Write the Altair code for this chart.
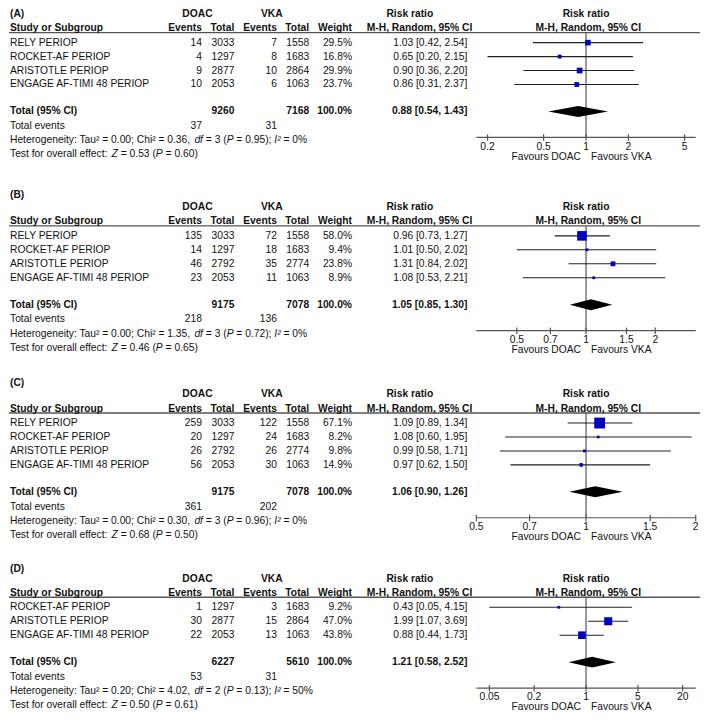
import altair as alt
import pandas as pd

# ---------------- data ----------------
panel_labels = ["(A)", "(B)", "(C)", "(D)"]

studies_A = ["RELY PERIOP", "ROCKET-AF PERIOP", "ARISTOTLE PERIOP", "ENGAGE AF-TIMI 48 PERIOP"]
doac_events_A = [14, 4, 9, 10]
doac_total_A = [3033, 1297, 2877, 2053]
vka_events_A = [7, 8, 10, 6]
vka_total_A = [1558, 1683, 2864, 1063]
weight_A = [29.5, 16.8, 29.9, 23.7]
rr_A = [1.03, 0.65, 0.90, 0.86]
rr_lo_A = [0.42, 0.20, 0.36, 0.31]
rr_hi_A = [2.54, 2.15, 2.20, 2.37]

studies_B = ["RELY PERIOP", "ROCKET-AF PERIOP", "ARISTOTLE PERIOP", "ENGAGE AF-TIMI 48 PERIOP"]
doac_events_B = [135, 14, 46, 23]
doac_total_B = [3033, 1297, 2792, 2053]
vka_events_B = [72, 18, 35, 11]
vka_total_B = [1558, 1683, 2774, 1063]
weight_B = [58.0, 9.4, 23.8, 8.9]
rr_B = [0.96, 1.01, 1.31, 1.08]
rr_lo_B = [0.73, 0.50, 0.84, 0.53]
rr_hi_B = [1.27, 2.02, 2.02, 2.21]

studies_C = ["RELY PERIOP", "ROCKET-AF PERIOP", "ARISTOTLE PERIOP", "ENGAGE AF-TIMI 48 PERIOP"]
doac_events_C = [259, 20, 26, 56]
doac_total_C = [3033, 1297, 2792, 2053]
vka_events_C = [122, 24, 26, 30]
vka_total_C = [1558, 1683, 2774, 1063]
weight_C = [67.1, 8.2, 9.8, 14.9]
rr_C = [1.09, 1.08, 0.99, 0.97]
rr_lo_C = [0.89, 0.60, 0.58, 0.62]
rr_hi_C = [1.34, 1.95, 1.71, 1.50]

studies_D = ["ROCKET-AF PERIOP", "ARISTOTLE PERIOP", "ENGAGE AF-TIMI 48 PERIOP"]
doac_events_D = [1, 30, 22]
doac_total_D = [1297, 2877, 2053]
vka_events_D = [3, 15, 13]
vka_total_D = [1683, 2864, 1063]
weight_D = [9.2, 47.0, 43.8]
rr_D = [0.43, 1.99, 0.88]
rr_lo_D = [0.05, 1.07, 0.44]
rr_hi_D = [4.15, 3.69, 1.73]

total_doac = [9260, 9175, 9175, 6227]
total_vka = [7168, 7078, 7078, 5610]
total_weight = [100.0, 100.0, 100.0, 100.0]
total_rr = [0.88, 1.05, 1.06, 1.21]
total_lo = [0.54, 0.85, 0.90, 0.58]
total_hi = [1.43, 1.30, 1.26, 2.52]
events_doac = [37, 218, 361, 53]
events_vka = [31, 136, 202, 31]
het_tau2 = ["0.00", "0.00", "0.00", "0.20"]
het_chi2 = ["0.36", "1.35", "0.30", "4.02"]
het_df = [3, 3, 3, 2]
het_p = ["0.95", "0.72", "0.96", "0.13"]
het_i2 = [0, 0, 0, 50]
z_value = ["0.53", "0.46", "0.68", "0.50"]
z_p = ["0.60", "0.65", "0.50", "0.61"]

axis_ticks = [[0.2, 0.5, 1, 2, 5], [0.5, 0.7, 1, 1.5, 2], [0.5, 0.7, 1, 1.5, 2], [0.05, 0.2, 1, 5, 20]]
axis_tick_labels = [["0.2", "0.5", "1", "2", "5"], ["0.5", "0.7", "1", "1.5", "2"],
                    ["0.5", "0.7", "1", "1.5", "2"], ["0.05", "0.2", "1", "5", "20"]]
axis_limit = [6.0, 3.0, 2.0, 30.0]

studies = [studies_A, studies_B, studies_C, studies_D]
doac_events = [doac_events_A, doac_events_B, doac_events_C, doac_events_D]
doac_total = [doac_total_A, doac_total_B, doac_total_C, doac_total_D]
vka_events = [vka_events_A, vka_events_B, vka_events_C, vka_events_D]
vka_total = [vka_total_A, vka_total_B, vka_total_C, vka_total_D]
weights = [weight_A, weight_B, weight_C, weight_D]
rrs = [rr_A, rr_B, rr_C, rr_D]
rr_los = [rr_lo_A, rr_lo_B, rr_lo_C, rr_lo_D]
rr_his = [rr_hi_A, rr_hi_B, rr_hi_C, rr_hi_D]

# ---------------- layout / style ----------------
FONT = "Liberation Sans"
FS = 10.3
LINE = 14.0
WIDTH = 693
INK = "#111111"
GREY = "#555555"
BLUE = "#0000C0"

COL_NAME = 1
COL_DEV = 193.5
COL_DTOT = 226
COL_VEV = 268.7
COL_VTOT = 301
COL_WT = 344
COL_CI = 459.7
COL_DOAC_HEAD = 189
COL_VKA_HEAD = 263.5
COL_RR_HEAD = 402
COL_MH_HEAD = 411.7
COL_RR_HEAD2 = 578.7
COL_MH_HEAD2 = 581
FOREST_RANGE = [468.7, 688.7]

# page-coordinate layout of each panel
panel_top = [8, 180, 372, 560]
panel_height = [172, 192, 188, 154]
label_y = [13.3, 194.7, 382.8, 569.8]
head1_y = [13.3, 206.3, 394.0, 579.5]
base_y = [27.2, 221.0, 408.7, 593.5]

ARIAL = {' ': 278, '!': 278, '%': 889, '(': 333, ')': 333, ',': 278, '-': 333, '.': 278, ':': 278,
         ';': 278, '=': 584, '\u00b2': 333, '[': 278, ']': 278}
for ch in "0123456789":
    ARIAL[ch] = 556
ARIAL.update({'A': 667, 'B': 667, 'C': 722, 'D': 722, 'E': 667, 'F': 611, 'G': 778, 'H': 722, 'I': 278,
              'J': 500, 'K': 667, 'L': 556, 'M': 833, 'N': 722, 'O': 778, 'P': 667, 'Q': 778, 'R': 722,
              'S': 667, 'T': 611, 'U': 722, 'V': 667, 'W': 944, 'X': 667, 'Y': 667, 'Z': 611,
              'a': 556, 'b': 556, 'c': 500, 'd': 556, 'e': 556, 'f': 278, 'g': 556, 'h': 556, 'i': 222,
              'j': 222, 'k': 500, 'l': 222, 'm': 833, 'n': 556, 'o': 556, 'p': 556, 'q': 556, 'r': 333,
              's': 500, 't': 278, 'u': 556, 'v': 500, 'w': 722, 'x': 500, 'y': 500, 'z': 500})


def text_width(s):
    return sum(ARIAL.get(c, 556) for c in s) * FS / 1000.0


STYLES = {
    "ln": ("left", "normal", "normal"),
    "li": ("left", "normal", "italic"),
    "lb": ("left", "bold", "normal"),
    "rn": ("right", "normal", "normal"),
    "rb": ("right", "bold", "normal"),
    "cb": ("center", "bold", "normal"),
}


def ci_text(r, l, h):
    return f"{r:.2f} [{l:.2f}, {h:.2f}]"


def build_panel(i):
    top = panel_top[i]
    H = panel_height[i]

    def ly(v):
        return (v - top) / LINE

    base = base_y[i]
    n = len(studies[i])
    rule_y = base + 4.5
    rows_y = [base + 14.5 + 14 * j for j in range(n)]
    total_y = rows_y[-1] + 27
    tev_y = total_y + 14.8
    het_y = tev_y + 14.2
    test_y = het_y + 14.2
    axis_y = total_y + 26
    tick_y = axis_y + 9.3
    fav_y = axis_y + 19.5

    ys = alt.Scale(domain=[0, H / LINE], reverse=True, nice=False, zero=False)
    k = axis_limit[i]
    xs = alt.Scale(type="log", domain=[1.0 / k, k], range=FOREST_RANGE, nice=False)
    Y = lambda f: alt.Y(f, scale=ys, axis=None)
    X = lambda f: alt.X(f, scale=xs, axis=None)

    T = []

    def add(t, x, y, g):
        T.append({"text": t, "px": x, "y": ly(y), "g": g})

    def segments(parts, x0, y):
        x = x0
        for s, ital in parts:
            lead = len(s) - len(s.lstrip(" "))
            add(s.strip(), x + text_width(" ") * lead, y, "li" if ital else "ln")
            x += text_width(s)

    add(panel_labels[i], COL_NAME, label_y[i], "lb")
    add("DOAC", COL_DOAC_HEAD, head1_y[i], "cb")
    add("VKA", COL_VKA_HEAD, head1_y[i], "cb")
    add("Risk ratio", COL_RR_HEAD, head1_y[i], "cb")
    add("Risk ratio", COL_RR_HEAD2, head1_y[i], "cb")
    add("Study or Subgroup", COL_NAME, base, "lb")
    add("Events", COL_DEV, base, "rb")
    add("Total", COL_DTOT, base, "rb")
    add("Events", COL_VEV, base, "rb")
    add("Total", COL_VTOT, base, "rb")
    add("Weight", COL_WT, base, "rb")
    add("M-H, Random, 95% CI", COL_MH_HEAD, base, "cb")
    add("M-H, Random, 95% CI", COL_MH_HEAD2, base, "cb")

    for j in range(n):
        y = rows_y[j]
        add(studies[i][j], COL_NAME, y, "ln")
        add(str(doac_events[i][j]), COL_DEV, y, "rn")
        add(str(doac_total[i][j]), COL_DTOT, y, "rn")
        add(str(vka_events[i][j]), COL_VEV, y, "rn")
        add(str(vka_total[i][j]), COL_VTOT, y, "rn")
        add(f"{weights[i][j]:.1f}%", COL_WT, y, "rn")
        add(ci_text(rrs[i][j], rr_los[i][j], rr_his[i][j]), COL_CI, y, "rn")

    add("Total (95% CI)", COL_NAME, total_y, "lb")
    add(str(total_doac[i]), COL_DTOT, total_y, "rb")
    add(str(total_vka[i]), COL_VTOT, total_y, "rb")
    add(f"{total_weight[i]:.1f}%", COL_WT, total_y, "rb")
    add(ci_text(total_rr[i], total_lo[i], total_hi[i]), COL_CI, total_y, "rb")
    add("Total events", COL_NAME, tev_y, "ln")
    add(str(events_doac[i]), COL_DEV, tev_y, "rn")
    add(str(events_vka[i]), COL_VEV, tev_y, "rn")

    segments([
        (f"Heterogeneity: Tau\u00b2 = {het_tau2[i]}; Chi\u00b2 = {het_chi2[i]}, ", False),
        ("df", True),
        (f" = {het_df[i]} (", False),
        ("P", True),
        (f" = {het_p[i]}); ", False),
        ("I\u00b2", True),
        (f" = {het_i2[i]}%", False),
    ], COL_NAME, het_y)
    segments([
        ("Test for overall effect: ", False),
        ("Z", True),
        (f" = {z_value[i]} (", False),
        ("P", True),
        (f" = {z_p[i]})", False),
    ], COL_NAME, test_y)

    tdf = pd.DataFrame(T)

    layers = []
    # header rule across the full width
    layers.append(
        alt.Chart(pd.DataFrame({"y": [ly(rule_y)]}))
        .mark_rule(color=GREY, strokeWidth=1.4)
        .encode(x=alt.value(0), x2=alt.value(WIDTH), y=Y("y:Q"))
    )
    # line of no effect
    layers.append(
        alt.Chart(pd.DataFrame({"x": [1.0], "y": [ly(rule_y)], "y2": [ly(axis_y)]}))
        .mark_rule(color=GREY, strokeWidth=1.2)
        .encode(x=X("x:Q"), y=Y("y:Q"), y2="y2:Q")
    )
    # study CIs and squares
    sdf = pd.DataFrame({
        "rr": rrs[i], "lo": rr_los[i], "hi": rr_his[i], "w": weights[i],
        "y": [ly(v) for v in rows_y],
    })
    layers.append(
        alt.Chart(sdf).mark_rule(color="#222222", strokeWidth=1.1)
        .encode(x=X("lo:Q"), x2="hi:Q", y=Y("y:Q"))
    )
    layers.append(
        alt.Chart(sdf)
        .transform_calculate(area="pow(1.5 + 0.14 * datum.w, 2)")
        .mark_square(filled=True, opacity=1, color=BLUE)
        .encode(x=X("rr:Q"), y=Y("y:Q"), size=alt.Size("area:Q", scale=None))
    )
    # pooled diamond
    hh = 5.5 / LINE
    ddf = pd.DataFrame({
        "x": [total_lo[i], total_rr[i], total_hi[i]],
        "y": [ly(total_y), ly(total_y) - hh, ly(total_y)],
        "y2": [ly(total_y), ly(total_y) + hh, ly(total_y)],
    })
    layers.append(
        alt.Chart(ddf).mark_area(color="black", opacity=1, orient="vertical")
        .encode(x=X("x:Q"), y=Y("y:Q"), y2="y2:Q")
    )
    # axis line, ticks, labels
    layers.append(
        alt.Chart(pd.DataFrame({"x": [1.0 / k], "x2": [k], "y": [ly(axis_y)]}))
        .mark_rule(color=GREY, strokeWidth=1.2)
        .encode(x=X("x:Q"), x2="x2:Q", y=Y("y:Q"))
    )
    tkdf = pd.DataFrame({
        "t": axis_ticks[i], "lab": axis_tick_labels[i],
        "y": [ly(axis_y - 3)] * len(axis_ticks[i]),
        "y2": [ly(axis_y + 3.5)] * len(axis_ticks[i]),
        "yl": [ly(tick_y)] * len(axis_ticks[i]),
    })
    layers.append(
        alt.Chart(tkdf).mark_rule(color=GREY, strokeWidth=1.2)
        .encode(x=X("t:Q"), y=Y("y:Q"), y2="y2:Q")
    )
    layers.append(
        alt.Chart(tkdf).mark_text(align="center", baseline="middle", font=FONT, fontSize=FS, color=INK)
        .encode(x=X("t:Q"), y=Y("yl:Q"), text="lab:N")
    )
    fdf = pd.DataFrame({"x": [1.0], "y": [ly(fav_y)], "l": ["Favours DOAC"], "r": ["Favours VKA"]})
    layers.append(
        alt.Chart(fdf).mark_text(align="right", baseline="middle", dx=-5, font=FONT, fontSize=FS, color=INK)
        .encode(x=X("x:Q"), y=Y("y:Q"), text="l:N")
    )
    layers.append(
        alt.Chart(fdf).mark_text(align="left", baseline="middle", dx=5, font=FONT, fontSize=FS, color=INK)
        .encode(x=X("x:Q"), y=Y("y:Q"), text="r:N")
    )
    # table text
    for g, (al, fw, fst) in STYLES.items():
        sub = tdf[tdf["g"] == g]
        if len(sub) == 0:
            continue
        layers.append(
            alt.Chart(sub)
            .mark_text(align=al, baseline="middle", font=FONT, fontSize=FS,
                       fontWeight=fw, fontStyle=fst, color=INK)
            .encode(x=alt.X("px:Q", scale=None, axis=None), y=Y("y:Q"), text="text:N")
        )
    return alt.layer(*layers).properties(width=WIDTH, height=H)


chart = (
    alt.vconcat(*[build_panel(i) for i in range(4)], spacing=0, bounds="flush")
    .properties(padding=0)
    .configure_view(stroke=None)
)

chart.save("out.html", embed_options={"renderer": "svg", "actions": False})
